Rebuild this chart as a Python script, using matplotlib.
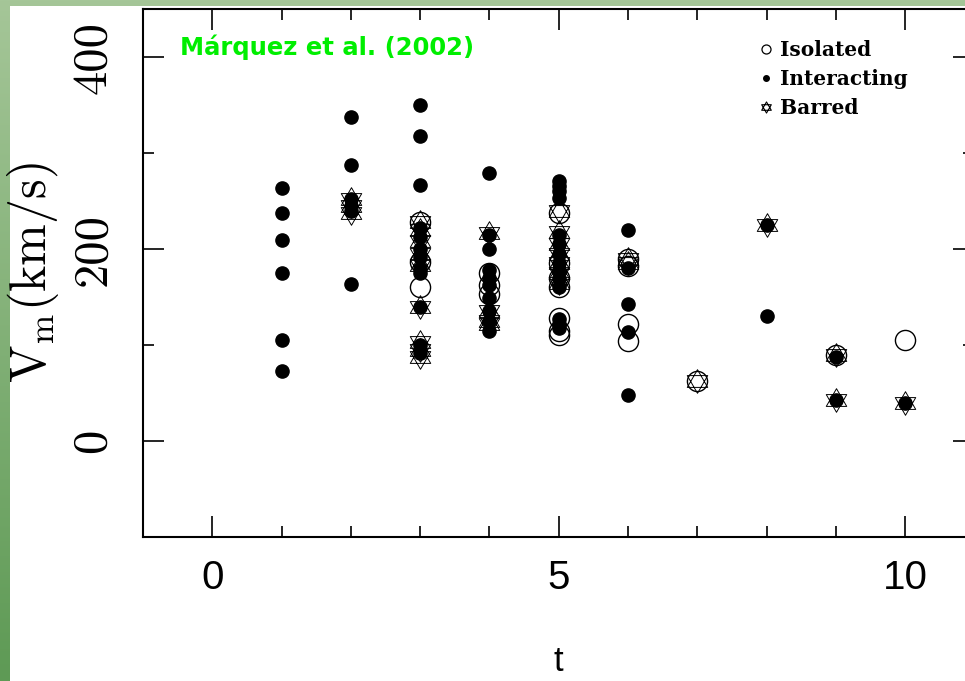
import numpy as np
import matplotlib
matplotlib.use("Agg")
import matplotlib.pyplot as plt
from matplotlib.path import Path
from matplotlib.patches import Rectangle
from matplotlib.lines import Line2D
from matplotlib.colors import LinearSegmentedColormap

plt.rcParams["mathtext.fontset"] = "cm"

# data: morphological type t vs max rotation velocity
iso_t = [3, 3, 3, 4, 4, 4, 5, 5, 5, 5, 5, 5, 5, 6, 6, 6, 6, 7, 9, 10]
iso_v = [228, 186, 160, 175, 163, 153, 238, 185, 170, 160, 128, 115, 110, 190, 182, 122, 104, 63, 90, 105]

int_t = [1, 1, 1, 1, 1, 1,
         2, 2, 2, 2, 2, 2,
         3, 3, 3, 3, 3, 3, 3, 3, 3, 3, 3, 3,
         4, 4, 4, 4, 4, 4, 4, 4, 4, 4,
         5, 5, 5, 5, 5, 5, 5, 5, 5, 5, 5, 5, 5, 5,
         6, 6, 6, 6, 6,
         8, 8, 9, 9, 10]
int_v = [264, 237, 209, 175, 105, 73,
         337, 287, 164, 252, 245, 240,
         350, 318, 267, 222, 212, 200, 192, 180, 175, 140, 100, 92,
         279, 215, 200, 178, 170, 163, 149, 135, 125, 115,
         271, 266, 260, 253, 215, 205, 195, 185, 178, 170, 160, 127, 122, 118,
         220, 180, 143, 114, 48,
         225, 130, 88, 43, 40]

bar_t = [2, 2, 2, 3, 3, 3, 3, 3, 3, 3, 3, 3, 4, 4, 4, 4,
         5, 5, 5, 5, 5, 5, 5, 6, 6, 7, 8, 9, 9, 10]
bar_v = [252, 245, 238, 228, 220, 208, 195, 183, 140, 103, 95, 88, 217, 135, 125, 122,
         240, 218, 205, 195, 185, 175, 165, 190, 185, 63, 225, 90, 43, 40]

legend_labels = ["Isolated", "Interacting", "Barred"]

# star of David marker (two open triangles)
ang_up = np.deg2rad([90, 210, 330, 90])
ang_dn = np.deg2rad([270, 30, 150, 270])
verts = list(zip(np.cos(ang_up), np.sin(ang_up))) + list(zip(np.cos(ang_dn), np.sin(ang_dn)))
codes = [Path.MOVETO, Path.LINETO, Path.LINETO, Path.CLOSEPOLY] * 2
star = Path(verts, codes)

fig = plt.figure(figsize=(9.65, 6.81), dpi=100)

# green slide background
bg = fig.add_axes([0, 0, 1, 1], zorder=-10)
grad = np.linspace(0, 1, 256).reshape(-1, 1)
cmap = LinearSegmentedColormap.from_list("g", ["#a5c698", "#5e9a55"])
bg.imshow(grad, aspect="auto", cmap=cmap, extent=[0, 1, 0, 1], origin="upper")
bg.axis("off")
fig.add_artist(Rectangle((10 / 965, 0), 1, 1 - 6 / 681, transform=fig.transFigure,
                         facecolor="white", edgecolor="none", zorder=-5))

ax = fig.add_axes([143 / 965, 1 - 537 / 681, 831.4 / 965, 528 / 681])

ax.plot(bar_t, bar_v, linestyle="none", marker=star, markersize=17,
        markerfacecolor="none", markeredgecolor="black", markeredgewidth=0.7)
ax.plot(iso_t, iso_v, linestyle="none", marker="o", markersize=14.5,
        markerfacecolor="none", markeredgecolor="black", markeredgewidth=1.0)
ax.plot(int_t, int_v, linestyle="none", marker="o", markersize=9.5,
        markerfacecolor="black", markeredgecolor="black")

ax.set_xlim(-1, 11)
ax.set_ylim(-100, 450)
ax.set_xticks([0, 5, 10])
ax.set_xticks(range(-1, 12), minor=True)
ax.set_yticks([0, 200, 400])
ax.set_yticks([-100, 100, 300], minor=True)

for s in ax.spines.values():
    s.set_linewidth(1.5)
ax.tick_params(which="both", direction="in", top=True, right=True, width=1.2)
ax.tick_params(which="major", length=15)
ax.tick_params(which="minor", length=8)
ax.tick_params(axis="x", which="major", pad=16, labelsize=29)
ax.tick_params(axis="y", which="major", pad=20, labelsize=35, labelrotation=90)
for lab in ax.get_xticklabels():
    lab.set_fontfamily("Liberation Sans")
for lab in ax.get_yticklabels():
    lab.set_fontfamily("cmr10")
    lab.set_verticalalignment("center")

ax.set_xlabel("t", fontsize=25, fontfamily="Liberation Sans")
ax.xaxis.set_label_coords(0.5, -0.205)
ax.set_ylabel(r"$\mathrm{V_m(km/s)}$", fontsize=36)
ax.yaxis.set_label_coords(-0.099, 0.5)

fig.text(180 / 965, 1 - 47 / 681, "Márquez et al. (2002)", color="#00ee00",
         fontsize=17.5, fontweight="bold", fontfamily="DejaVu Sans", va="center")

handles = [
    Line2D([], [], linestyle="none", marker="o", markersize=6.5, markerfacecolor="none",
           markeredgecolor="black", markeredgewidth=0.9),
    Line2D([], [], linestyle="none", marker="o", markersize=4, markerfacecolor="black",
           markeredgecolor="black"),
    Line2D([], [], linestyle="none", marker=star, markersize=8, markerfacecolor="none",
           markeredgecolor="black", markeredgewidth=0.8),
]
ax.legend(handles, legend_labels, loc="upper left", bbox_to_anchor=(758 / 965, 1 - 40 / 681),
          bbox_transform=fig.transFigure, frameon=False, borderpad=0, borderaxespad=0,
          handlelength=0.8, handletextpad=0.3, labelspacing=0.45,
          prop={"family": "DejaVu Serif", "weight": "bold", "size": 14.5})

fig.savefig("out.png", dpi=100)
